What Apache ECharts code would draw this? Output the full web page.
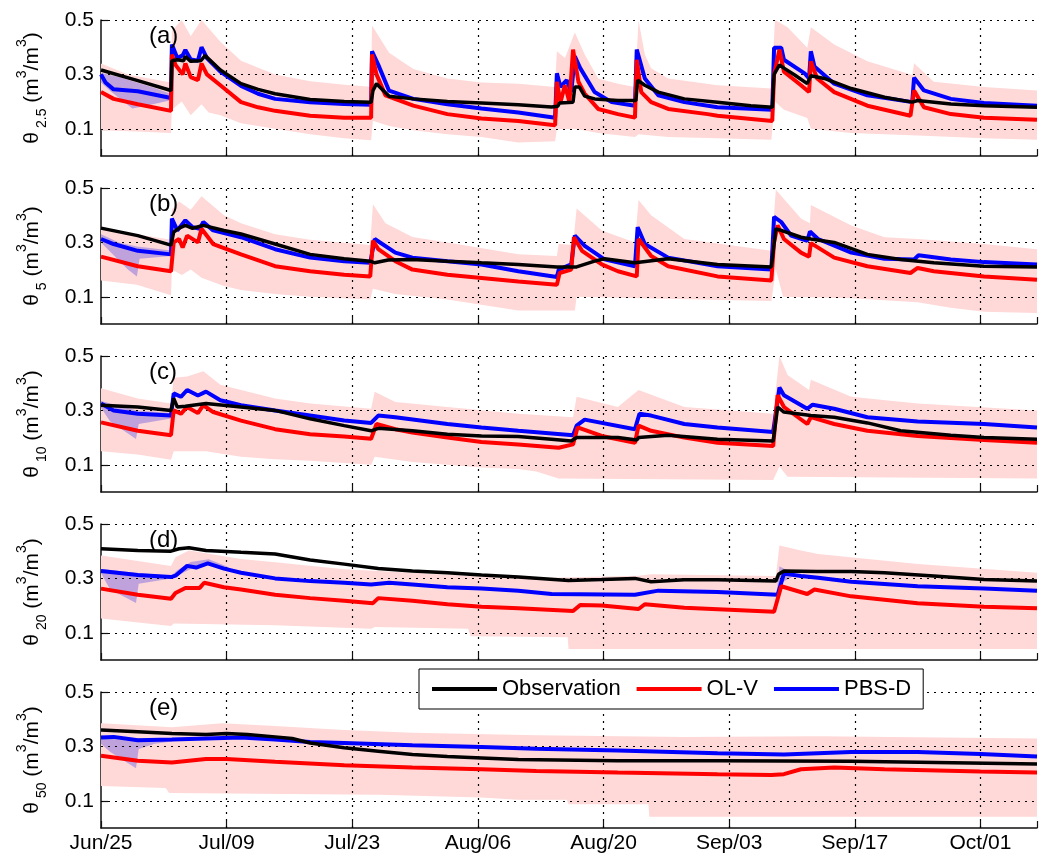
<!DOCTYPE html>
<html>
<head>
<meta charset="utf-8">
<script src="https://cdn.jsdelivr.net/npm/echarts@6/dist/echarts.min.js"></script>
<style>
html, body { margin: 0; padding: 0; background: #fff; }
#chart { width: 1042px; height: 855px; }
</style>
</head>
<body>
<div id="chart"></div>
<script>
// x = days since Jun/25, y = soil moisture (m3/m3)
var tickLabels = ['Jun/25', 'Jul/09', 'Jul/23', 'Aug/06', 'Aug/20', 'Sep/03', 'Sep/17', 'Oct/01'];
var yGrid = [0.1, 0.3, 0.5];
var depths = ['2.5', '5', '10', '20', '50'];
var letters = ['(a)', '(b)', '(c)', '(d)', '(e)'];
var legendNames = ['Observation', 'OL-V', 'PBS-D'];

// ---- (a) 2.5 cm
var obsA = [[0,0.316],[4,0.278],[7.8,0.241],[7.9,0.35],[8.5,0.354],[9.2,0.35],[9.4,0.366],[10,0.348],[11.1,0.35],[11.6,0.369],[13.3,0.316],[15.6,0.266],[17.5,0.245],[19.4,0.229],[23.3,0.208],[27.1,0.2],[30.1,0.198],[30.3,0.24],[30.7,0.266],[32.1,0.22],[34.8,0.21],[38.6,0.2],[42.4,0.195],[46.5,0.188],[50.2,0.18],[50.9,0.183],[51.1,0.195],[52.6,0.198],[52.8,0.254],[53.3,0.254],[53.9,0.22],[55,0.21],[57.6,0.204],[59.6,0.204],[59.8,0.279],[60.6,0.26],[62.1,0.235],[65,0.21],[68.7,0.198],[72.4,0.185],[74.8,0.179],[75,0.3],[75.6,0.335],[76.1,0.323],[77.3,0.298],[78.7,0.266],[79.1,0.295],[80.6,0.285],[83.6,0.248],[87.3,0.216],[90.4,0.198],[91,0.204],[94.7,0.191],[98.4,0.185],[104.3,0.179]];
var pbsA = [[0,0.3],[0.5,0.27],[1.4,0.245],[4.1,0.238],[7.8,0.213],[7.9,0.41],[8.5,0.36],[9.1,0.37],[9.4,0.39],[10,0.355],[10.8,0.35],[11.2,0.4],[11.8,0.36],[13.3,0.31],[15.6,0.258],[17.5,0.229],[19.4,0.21],[23.3,0.198],[27.1,0.191],[30.1,0.188],[30.2,0.385],[30.9,0.335],[32.1,0.24],[34.8,0.21],[38.6,0.19],[42.4,0.175],[46.5,0.16],[50.6,0.141],[50.8,0.304],[51.2,0.254],[51.9,0.279],[52.4,0.235],[52.8,0.366],[53.4,0.323],[55,0.235],[56.9,0.198],[59.5,0.185],[59.7,0.391],[60.6,0.285],[62.1,0.223],[65,0.198],[68.7,0.179],[74.8,0.17],[75,0.398],[75.8,0.398],[76.1,0.354],[78.4,0.304],[78.9,0.285],[79.1,0.385],[79.5,0.329],[81.7,0.266],[85.4,0.223],[90.4,0.198],[90.6,0.288],[91.7,0.241],[94.7,0.21],[98.4,0.195],[104.3,0.185]];
var olvA = [[0,0.235],[1.4,0.21],[4.1,0.19],[7.8,0.166],[7.9,0.373],[8.3,0.335],[9.1,0.3],[9.4,0.34],[10,0.29],[10.8,0.279],[11.2,0.34],[11.8,0.3],[13.3,0.26],[15.6,0.198],[17.5,0.179],[19.4,0.166],[23.3,0.148],[27.1,0.141],[30.1,0.141],[30.2,0.373],[30.7,0.3],[31.7,0.223],[34.8,0.185],[38.6,0.154],[42.4,0.138],[46.5,0.129],[50.6,0.113],[50.8,0.273],[51.2,0.198],[51.7,0.26],[52.2,0.198],[52.6,0.391],[53.2,0.273],[53.9,0.229],[55.4,0.173],[57.6,0.154],[59.5,0.141],[59.7,0.354],[60.2,0.235],[61.3,0.198],[63.2,0.173],[67.6,0.154],[67.8,0.16],[68.7,0.148],[74.8,0.129],[75,0.3],[75.6,0.391],[76.1,0.31],[78,0.26],[78.9,0.235],[79.1,0.348],[79.8,0.285],[81.7,0.235],[85.4,0.185],[90.2,0.148],[90.6,0.241],[91.7,0.179],[94.7,0.154],[98.4,0.141],[104.3,0.133]];
var olvHiA = [[0,0.34],[3,0.3],[7.8,0.27],[7.9,0.46],[9,0.5],[10,0.44],[11.2,0.5],[12,0.47],[13.3,0.42],[15.6,0.35],[19.4,0.3],[23.3,0.275],[27.1,0.262],[30.1,0.255],[30.2,0.48],[32.1,0.38],[34.8,0.32],[38.6,0.285],[42.4,0.27],[46.5,0.266],[50.6,0.254],[50.8,0.385],[51.7,0.36],[52.8,0.454],[53.9,0.373],[55.4,0.285],[57.6,0.266],[59.5,0.254],[59.9,0.498],[60.6,0.373],[61.3,0.323],[63.2,0.285],[68.7,0.26],[74.7,0.248],[75.1,0.5],[76.5,0.473],[78.7,0.398],[79.1,0.473],[81.7,0.41],[85.4,0.348],[90.4,0.298],[90.6,0.341],[92.8,0.273],[98.4,0.254],[104.3,0.241]];
var olvLoA = [[0,0.095],[4,0.09],[7.8,0.085],[7.9,0.17],[9,0.2],[10,0.15],[11.2,0.19],[12,0.16],[13.3,0.15],[15.6,0.12],[19.4,0.1],[23.3,0.08],[27.1,0.065],[30.1,0.058],[30.3,0.13],[32.1,0.11],[34.8,0.095],[38.6,0.08],[42.4,0.07],[46.5,0.05],[50.6,0.054],[50.8,0.098],[52.8,0.1],[55.4,0.085],[59.5,0.07],[59.9,0.08],[63.2,0.07],[68.7,0.065],[74.7,0.06],[75.1,0.2],[76.1,0.17],[78.7,0.14],[79.1,0.1],[83.6,0.085],[91,0.075],[98.4,0.065],[104.3,0.06]];
var pbsHiA = [[0,0.305],[2,0.29],[4,0.27],[6,0.25],[7.8,0.228]];
var pbsLoA = [[0,0.27],[1,0.24],[2.5,0.2],[3.5,0.175],[5,0.185],[7.8,0.205]];

// ---- (b) 5 cm
var obsB = [[0,0.3525],[4.1,0.325],[7.8,0.29],[8.1,0.3375],[8.7,0.3525],[9.4,0.3625],[10.2,0.352],[11.4,0.3625],[13.7,0.344],[15.6,0.331],[19.4,0.294],[23.3,0.256],[27.1,0.24],[30,0.231],[30.5,0.225],[32,0.235],[34.7,0.2375],[38.6,0.231],[42.4,0.225],[46.5,0.219],[50.8,0.21],[53,0.21],[55,0.231],[56.1,0.24],[59.5,0.225],[63.2,0.24],[68.7,0.219],[74.7,0.21],[75.2,0.35],[75.8,0.344],[78,0.319],[79.1,0.3125],[81.7,0.3],[85.4,0.256],[89.1,0.2375],[92.8,0.225],[98.4,0.2125],[104.3,0.21]];
var pbsB = [[0,0.3125],[1.4,0.294],[4.1,0.269],[7.8,0.256],[7.9,0.3875],[8.5,0.344],[9.4,0.381],[10.2,0.356],[11,0.35],[11.4,0.375],[12.5,0.344],[15.6,0.319],[19.4,0.275],[23.3,0.244],[27.1,0.231],[30,0.225],[30.5,0.3125],[32.8,0.2625],[34.7,0.244],[38.6,0.231],[42.4,0.219],[46.5,0.194],[50.8,0.1725],[51,0.2],[52.4,0.219],[52.8,0.325],[53.9,0.2875],[56.1,0.2375],[59.5,0.2125],[59.8,0.356],[60.6,0.294],[63.2,0.244],[68.7,0.2125],[74.7,0.2],[75,0.394],[75.8,0.375],[76.9,0.325],[78.7,0.306],[79,0.34],[79.9,0.3125],[83.6,0.2625],[87.3,0.24],[90.6,0.2375],[91.1,0.2525],[94.7,0.2375],[98.4,0.2275],[104.3,0.219]];
var olvB = [[0,0.2475],[4.1,0.2125],[7.8,0.194],[8.1,0.3],[8.7,0.3125],[9.1,0.281],[9.6,0.325],[10.8,0.3],[11.2,0.35],[12.5,0.294],[15.6,0.256],[19.4,0.2125],[23.3,0.194],[27.1,0.181],[30,0.175],[30.3,0.306],[30.9,0.275],[32.8,0.231],[34.7,0.2],[38.6,0.181],[42.4,0.169],[46.5,0.156],[50.8,0.144],[51.1,0.1875],[52.4,0.2],[52.7,0.319],[53.6,0.269],[55.8,0.219],[57.6,0.194],[59.7,0.175],[59.9,0.3125],[61.3,0.25],[63.2,0.2125],[68.7,0.175],[74.7,0.16],[75,0.3],[75.4,0.3625],[76.1,0.3125],[78,0.2625],[78.9,0.2475],[79.1,0.2975],[81.7,0.244],[85.4,0.2125],[90.2,0.1875],[91,0.206],[92.8,0.194],[98.4,0.175],[104.3,0.1625]];
var olvHiB = [[0,0.35],[4,0.33],[7.8,0.31],[7.9,0.42],[8.7,0.45],[10,0.42],[11.2,0.47],[13.7,0.4],[15.6,0.37],[19.4,0.33],[23.3,0.31],[30,0.29],[30.3,0.44],[31.7,0.37],[34.7,0.32],[38.6,0.3],[46.5,0.256],[50.8,0.25],[51,0.294],[52.6,0.29],[53,0.425],[55.8,0.344],[59.5,0.3],[59.9,0.456],[61.3,0.4],[65,0.3125],[74.7,0.269],[75.2,0.494],[78,0.3875],[79,0.37],[79.1,0.4375],[83.6,0.3625],[87.3,0.319],[91,0.3125],[98.4,0.294],[104.3,0.275]];
var olvLoB = [[0,0.16],[4,0.144],[7.8,0.106],[7.9,0.2],[9,0.18],[10,0.2],[11.2,0.17],[13.7,0.14],[15.6,0.125],[19.4,0.11],[23.3,0.1],[30,0.09],[30.3,0.13],[32.8,0.11],[38.6,0.09],[46.5,0.05],[50.8,0.05],[52.8,0.05],[53,0.1],[60,0.095],[74.7,0.085],[75.2,0.2],[76,0.1],[83.6,0.095],[91,0.08],[94.7,0.06],[98.4,0.045],[104.3,0.04]];
var pbsHiB = [[0,0.33],[2,0.3],[4,0.285],[7.8,0.27]];
var pbsLoB = [[0,0.3],[1.5,0.25],[3,0.2],[4,0.175],[4.3,0.24],[7.8,0.25]];

// ---- (c) 10 cm
var obsC = [[0,0.319],[4.1,0.3125],[7.8,0.3],[8.1,0.344],[8.5,0.3125],[9.4,0.315],[11.7,0.325],[15.6,0.3125],[19.4,0.3],[23.3,0.269],[27.1,0.244],[30.1,0.225],[30.9,0.234],[34.7,0.225],[38.6,0.2125],[42.4,0.206],[46.5,0.204],[50.2,0.194],[52.4,0.1875],[53,0.2],[57.6,0.2],[59.7,0.191],[59.9,0.2],[63.2,0.209],[68.7,0.194],[74.9,0.1875],[75.4,0.3125],[76.1,0.294],[79.1,0.281],[81.7,0.275],[85.4,0.254],[89.1,0.225],[94.7,0.209],[98.4,0.2],[104.3,0.194]];
var pbsC = [[0,0.325],[1.4,0.3],[4.1,0.2875],[7.8,0.281],[8.1,0.3625],[8.9,0.35],[9.6,0.375],[10.8,0.355],[11.7,0.369],[13.3,0.3375],[15.6,0.319],[19.4,0.3],[23.3,0.281],[27.1,0.2625],[30.1,0.254],[30.9,0.281],[32.8,0.275],[38.6,0.25],[42.4,0.2375],[46.5,0.225],[52.6,0.209],[53,0.244],[53.9,0.266],[59.5,0.231],[60,0.2875],[61.3,0.281],[65,0.25],[68.7,0.2375],[74.9,0.221],[75.6,0.384],[76.1,0.356],[78.7,0.306],[79.3,0.321],[81.7,0.306],[85.4,0.275],[91,0.259],[98.4,0.25],[104.3,0.2375]];
var olvC = [[0,0.256],[4.1,0.225],[7.8,0.209],[8.1,0.3],[8.9,0.2875],[9.6,0.3125],[10.8,0.29],[11.4,0.319],[12.5,0.294],[15.6,0.2625],[19.4,0.231],[23.3,0.2125],[27.1,0.204],[30.1,0.196],[30.7,0.25],[32.8,0.231],[34.7,0.219],[38.6,0.2],[42.4,0.184],[46.5,0.175],[51,0.1625],[52.6,0.175],[53.1,0.2375],[55.8,0.206],[59.5,0.181],[59.9,0.244],[61.3,0.225],[65,0.2],[68.7,0.181],[74.9,0.169],[75.4,0.356],[76.1,0.3125],[78.7,0.25],[79.1,0.275],[81.7,0.25],[85.4,0.225],[91,0.206],[98.4,0.191],[104.3,0.181]];
var olvHiC = [[0,0.381],[4.1,0.344],[7.8,0.325],[8.1,0.42],[9.6,0.425],[11.4,0.444],[13.3,0.394],[15.6,0.375],[19.4,0.344],[23.3,0.325],[30.1,0.306],[30.5,0.369],[32.8,0.331],[38.6,0.3125],[46.5,0.2875],[52.6,0.275],[53,0.35],[57.6,0.3125],[59.9,0.375],[65,0.3125],[74.9,0.2875],[75.6,0.5],[76.5,0.43],[78.9,0.375],[79.1,0.4125],[83.6,0.35],[91,0.325],[104.3,0.3]];
var olvLoC = [[0,0.15],[4.1,0.1375],[7.8,0.119],[8.1,0.15],[11.7,0.15],[15.6,0.13],[19.4,0.12],[23.3,0.115],[30.1,0.1],[30.5,0.13],[34.7,0.11],[38.6,0.1],[42.4,0.09],[46.5,0.085],[48.5,0.075],[51,0.05],[74.9,0.044],[75.6,0.094],[76.5,0.056],[104.3,0.05]];
var pbsHiC = [[0,0.335],[4,0.3],[7.8,0.29]];
var pbsLoC = [[0,0.31],[1,0.26],[3.9,0.195],[4.2,0.25],[7.8,0.27]];

// ---- (d) 20 cm
var obsD = [[0,0.409],[4.1,0.4025],[7.8,0.4],[8.7,0.409],[9.8,0.4125],[11.7,0.4025],[15.6,0.396],[19.4,0.39],[23.3,0.3675],[27.1,0.3525],[30.9,0.336],[34.7,0.3275],[38.6,0.321],[42.4,0.3125],[46.5,0.305],[52.1,0.2925],[55.8,0.296],[59.5,0.3],[61.3,0.2875],[65,0.295],[68.7,0.295],[75.2,0.29],[75.5,0.315],[76.1,0.3275],[79.8,0.325],[83.6,0.325],[87.3,0.321],[92.8,0.309],[98.4,0.296],[104.3,0.29]];
var pbsD = [[0,0.3275],[4.1,0.3125],[7.8,0.305],[8.3,0.31],[9.6,0.346],[10.6,0.34],[11.9,0.355],[13.7,0.336],[15.6,0.321],[19.4,0.3],[23.3,0.29],[27.1,0.284],[30.1,0.2775],[32.1,0.284],[34.7,0.2775],[38.6,0.2675],[42.4,0.2625],[46.5,0.255],[50.2,0.2425],[59.5,0.24],[62.1,0.255],[68.7,0.25],[75.4,0.24],[76.1,0.3175],[78,0.309],[79.9,0.3025],[83.6,0.2875],[91,0.271],[98.4,0.2625],[104.3,0.255]];
var olvD = [[0,0.2625],[4.1,0.24],[7.8,0.225],[8.3,0.246],[9.4,0.265],[11,0.265],[11.5,0.284],[13.7,0.2675],[15.6,0.259],[19.4,0.24],[23.3,0.2275],[27.1,0.2175],[30.3,0.209],[30.9,0.2275],[34.7,0.2175],[38.6,0.205],[42.4,0.196],[46.5,0.19],[52.6,0.18],[53.4,0.2025],[55.8,0.2],[59.9,0.1875],[60.6,0.205],[65,0.1925],[75,0.1775],[75.8,0.271],[78.7,0.2425],[79.5,0.259],[83.6,0.234],[91,0.209],[98.4,0.196],[104.3,0.19]];
var olvHiD = [[0,0.384],[7.8,0.346],[8.3,0.3775],[9.8,0.4025],[15.6,0.371],[19.4,0.359],[27.1,0.334],[34.7,0.321],[46.5,0.3],[59.9,0.31],[61.3,0.315],[75.2,0.309],[75.6,0.421],[78,0.4025],[79.9,0.39],[91,0.3525],[104.3,0.321]];
var olvLoD = [[0,0.1525],[7.8,0.125],[8.1,0.134],[19.4,0.1275],[30.1,0.115],[30.5,0.121],[40.9,0.115],[41.2,0.0875],[52,0.084],[52.1,0.04],[104.3,0.04]];
var pbsHiD = [[0,0.335],[4,0.32],[7.8,0.31],[8.5,0.33],[10,0.36],[12,0.37],[14,0.345],[14.5,0.335],[75.3,0.25],[75.6,0.345],[77,0.32],[77.5,0.31]];
var pbsLoD = [[0,0.32],[1,0.26],[3.9,0.21],[4.2,0.28],[7.8,0.3],[8.5,0.31],[10,0.335],[12,0.35],[14,0.335],[14.5,0.335],[75.3,0.25],[75.6,0.28],[77,0.305],[77.5,0.31]];

// ---- (e) 50 cm
var obsE = [[0,0.36],[4.1,0.354],[7.9,0.3475],[11.7,0.344],[14,0.3475],[16.3,0.344],[19.4,0.335],[21.3,0.329],[23.3,0.3125],[27.1,0.295],[30.9,0.2825],[34.7,0.27],[38.6,0.2625],[42.4,0.2575],[46.5,0.252],[57.6,0.247],[68.7,0.247],[83.6,0.245],[104.3,0.235]];
var pbsE = [[0,0.3325],[1.4,0.335],[4.1,0.3225],[7.9,0.325],[11.7,0.329],[15.6,0.3325],[19.4,0.325],[23.3,0.316],[27.1,0.3125],[34.7,0.304],[42.4,0.2975],[48.5,0.291],[57.6,0.285],[68.7,0.275],[76.1,0.27],[83.6,0.279],[91,0.279],[98,0.272],[104.3,0.2625]];
var olvE = [[0,0.266],[4.1,0.2475],[7.9,0.241],[11.7,0.254],[14,0.254],[19.4,0.244],[27.1,0.231],[34.7,0.2225],[42.4,0.216],[48.5,0.21],[57.6,0.204],[68.7,0.1975],[74.7,0.195],[76.1,0.198],[78,0.216],[81.7,0.2225],[87.3,0.216],[98,0.2075],[104.3,0.204]];
var olvHiE = [[0,0.385],[7.9,0.37],[13.5,0.385],[19.4,0.375],[27.1,0.36],[34.7,0.35],[48.5,0.341],[65,0.335],[79.9,0.3375],[104.3,0.329]];
var olvLoE = [[0,0.154],[7.2,0.1475],[7.6,0.129],[30.9,0.1225],[42.4,0.1125],[46.5,0.104],[51.9,0.104],[52.1,0.0875],[61,0.0875],[61.1,0.041],[104.3,0.041]];
var pbsHiE = [[0,0.34],[4,0.33],[7.9,0.33]];
var pbsLoE = [[0,0.31],[1,0.28],[3.9,0.22],[4.2,0.29],[6,0.31],[7.9,0.318]];

var panels = [
  { obs: obsA, olv: olvA, pbs: pbsA, olvLo: olvLoA, olvHi: olvHiA, pbsLo: pbsLoA, pbsHi: pbsHiA },
  { obs: obsB, olv: olvB, pbs: pbsB, olvLo: olvLoB, olvHi: olvHiB, pbsLo: pbsLoB, pbsHi: pbsHiB },
  { obs: obsC, olv: olvC, pbs: pbsC, olvLo: olvLoC, olvHi: olvHiC, pbsLo: pbsLoC, pbsHi: pbsHiC },
  { obs: obsD, olv: olvD, pbs: pbsD, olvLo: olvLoD, olvHi: olvHiD, pbsLo: pbsLoD, pbsHi: pbsHiD },
  { obs: obsE, olv: olvE, pbs: pbsE, olvLo: olvLoE, olvHi: olvHiE, pbsLo: pbsLoE, pbsHi: pbsHiE }
];

var FONT = 'Liberation Sans, Arial, Helvetica, sans-serif';
var PINK = '#ffd8d8';
var PURPLE = '#bfa2dc';
var dotted = [2, 5];

// grid lines as marker lines so they sit above the shaded bands
var gridMarks = yGrid.map(function (v) { return { yAxis: v }; })
  .concat(tickLabels.slice(1).map(function (t, k) { return { xAxis: 14 * (k + 1) }; }));

// filled band between a lower and an upper curve
function band(i, lo, hi, color, z) {
  return {
    type: 'custom', name: 'band' + i + '_' + z, xAxisIndex: i, yAxisIndex: i,
    silent: true, clip: true, z: z, animation: false,
    data: [lo[0]],
    renderItem: function (params, api) {
      var pts = hi.map(function (p) { return api.coord(p); })
        .concat(lo.slice().reverse().map(function (p) { return api.coord(p); }));
      return { type: 'polygon', shape: { points: pts }, style: { fill: color } };
    }
  };
}

function line(i, name, data, color, width, z) {
  return {
    type: 'line', name: name, xAxisIndex: i, yAxisIndex: i, data: data,
    showSymbol: false, symbol: 'none', silent: true, animation: false, z: z,
    color: color, itemStyle: { color: color },
    lineStyle: { color: color, width: width }
  };
}

var grids = [], xAxes = [], yAxes = [], series = [], graphics = [];
panels.forEach(function (p, i) {
  var top = 20 + 168 * i;
  grids.push({ left: 101, right: 5, top: top, height: 136, containLabel: false, outerBoundsMode: 'none' });
  xAxes.push({
    type: 'value', gridIndex: i, min: 0, max: 104.3, interval: 14,
    axisLine: { lineStyle: { color: '#111', width: 1.5 } },
    axisTick: { inside: true, length: 7, lineStyle: { color: '#111', width: 1.2 } },
    axisLabel: {
      show: i === 4, margin: 5, fontSize: 21, color: '#000', fontFamily: FONT,
      formatter: function (v) {
        var k = Math.round(v / 14);
        return (Math.abs(v - k * 14) < 1e-6 && tickLabels[k]) ? tickLabels[k] : '';
      }
    },
    splitLine: { show: false }
  });
  yAxes.push({
    type: 'value', gridIndex: i, min: 0, max: 0.5, interval: 0.1,
    name: '{t|θ}{s|' + depths[i] + '}{t| (m}{p|3}{t|/m}{p|3}{t|)}',
    nameLocation: 'middle', nameRotate: 90, nameGap: 52,
    nameTextStyle: {
      rich: {
        t: { fontSize: 21, lineHeight: 34, verticalAlign: 'middle', color: '#000', fontFamily: FONT },
        s: { fontSize: 14, lineHeight: 14, verticalAlign: 'bottom', color: '#000', fontFamily: FONT, padding: [0, 0, 0, 4] },
        p: { fontSize: 14, lineHeight: 14, verticalAlign: 'top', color: '#000', fontFamily: FONT }
      }
    },
    axisLine: { show: true, lineStyle: { color: '#111', width: 1.5 } },
    axisTick: { inside: true, length: 7, customValues: yGrid, lineStyle: { color: '#111', width: 1.2 } },
    axisLabel: {
      margin: 7, fontSize: 21, color: '#000', fontFamily: FONT,
      formatter: function (v) {
        var k = Math.round(v * 10);
        return k % 2 === 1 ? (k / 10).toFixed(1) : '';
      }
    },
    splitLine: { show: false }
  });

  series.push(band(i, p.olvLo, p.olvHi, PINK, 1));
  series.push(band(i, p.pbsLo, p.pbsHi, PURPLE, 1.2));
  var pbsLine = line(i, 'PBS-D', p.pbs, '#0000ff', 4, 3);
  pbsLine.markLine = {
    silent: true, animation: false, z: 2, symbol: ['none', 'none'],
    label: { show: false }, emphasis: { disabled: true },
    lineStyle: { color: '#000', width: 1.2, type: dotted },
    data: gridMarks
  };
  series.push(pbsLine);
  series.push(line(i, 'OL-V', p.olv, '#ff0000', 4, 4));
  series.push(line(i, 'Observation', p.obs, '#000000', 3.5, 5));

  graphics.push({
    type: 'text', x: 149, y: top + 16, z: 100,
    style: { text: letters[i], font: '24px ' + FONT, fill: '#000', verticalAlign: 'middle' }
  });
});

var chart = echarts.init(document.getElementById('chart'), null, { renderer: 'canvas' });
chart.setOption({
  backgroundColor: '#fff',
  animation: false,
  textStyle: { fontFamily: FONT },
  grid: grids,
  xAxis: xAxes,
  yAxis: yAxes,
  legend: {
    data: legendNames,
    left: 419, top: 669, z: 20,
    orient: 'horizontal',
    icon: 'rect', itemWidth: 65, itemHeight: 4, itemGap: 16,
    padding: [9, 12, 9, 13],
    backgroundColor: '#fff', borderColor: '#000', borderWidth: 1, borderRadius: 0,
    textStyle: { fontSize: 22, color: '#000', fontFamily: FONT },
    selectedMode: false
  },
  graphic: graphics,
  series: series
});
</script>
</body>
</html>
